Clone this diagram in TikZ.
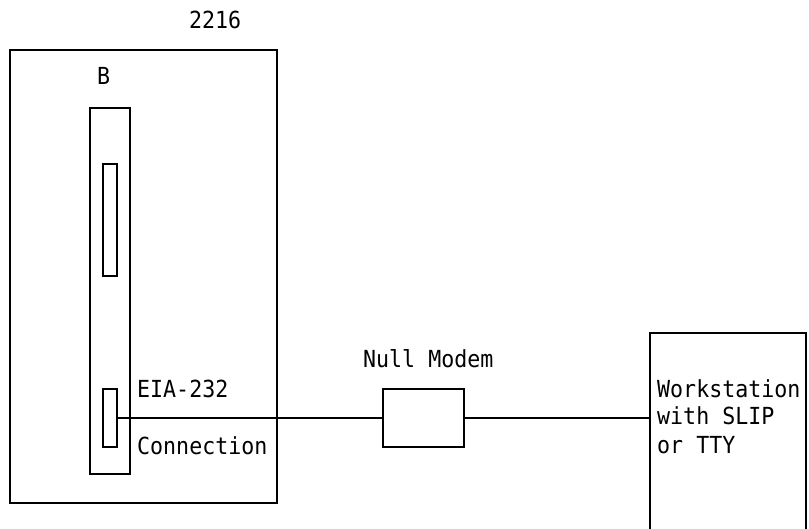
\documentclass[tikz,border=0pt]{standalone}
\usepackage{fontspec}
\setmonofont{DejaVu Sans Mono}[FakeStretch=0.92]
\usetikzlibrary{positioning}

\begin{document}
\begin{tikzpicture}[x=1pt, y=-1pt, box/.style={draw, rectangle, line width=1.6pt, inner sep=0pt, anchor=north west}, wire/.style={line width=1.6pt}, lbl/.style={anchor=base west, inner sep=0pt, font=\ttfamily\fontsize{23.5}{28}\selectfont}]
  \useasboundingbox (0,0) rectangle (809,529);
  \clip (0,0) rectangle (809,529);
  % the 2216 and its adapter
  \node[box, minimum width=267pt, minimum height=453pt] (unit) at (9,49) {};
  \node[box, minimum width=40pt, minimum height=366pt] (card) at (89,107) {};
  \node[box, minimum width=14pt, minimum height=112pt] (slot) at (102,163) {};
  \node[box, minimum width=14pt, minimum height=58pt] (port) at (102,388) {};
  \node[lbl] (unitname) at (189,29) {2216};
  \node[lbl] (cardname) at (97,85) {B};
  \node[lbl] (eia) at (137,397) {EIA-232};
  \node[lbl] (conn) at (137,454) {Connection};
  % null modem and workstation
  \node[box, minimum width=81pt, minimum height=58pt] (nm) at (382,388) {};
  \node[lbl] (nmname) at (363,368) {Null Modem};
  \node[box, minimum width=156pt, minimum height=220pt] (ws) at (649,332) {};
  \node[lbl, align=left] (wsname) at (657,453) {Workstation\\with SLIP\\or TTY};
  \draw[wire] (port.east) -- (nm.west);
  \draw[wire] (nm.east) -- (nm.east -| ws.west);
\end{tikzpicture}
\end{document}
